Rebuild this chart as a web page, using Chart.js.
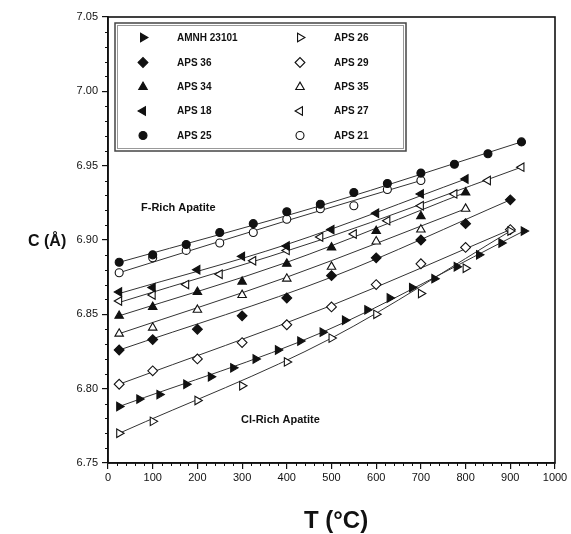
<!DOCTYPE html>
<html>
<head>
<meta charset="utf-8">
<script src="https://cdn.jsdelivr.net/npm/chart.js@4.4.1/dist/chart.umd.min.js"></script>
<style>
  html, body { margin: 0; padding: 0; background: #fff; }
  #latticeChart { display: block; }
</style>
</head>
<body>
<canvas id="latticeChart" width="571" height="534"></canvas>
<script>
// temperatures (°C)
const tempAMNH = [25, 70, 115, 175, 230, 280, 330, 380, 430, 480, 530, 580, 630, 680, 730, 780, 830, 880, 930];
const temp100 = [25, 100, 200, 300, 400, 500, 600, 700, 800, 900];
const temp75 = [25, 100, 175, 250, 325, 400, 475, 550, 625, 700, 775, 850, 925];

// c lattice parameter (Å)
const cAMNH = [6.788, 6.793, 6.796, 6.803, 6.808, 6.814, 6.820, 6.826, 6.832, 6.838, 6.846, 6.853, 6.861, 6.868, 6.874, 6.882, 6.890, 6.898, 6.906];
const cAPS36 = [6.826, 6.833, 6.840, 6.849, 6.861, 6.876, 6.888, 6.900, 6.911, 6.927];
const cAPS34 = [6.849, 6.855, 6.865, 6.872, 6.884, 6.895, 6.906, 6.916, 6.932];
const cAPS18 = [6.865, 6.868, 6.880, 6.889, 6.896, 6.907, 6.918, 6.931, 6.941];
const cAPS25 = [6.885, 6.890, 6.897, 6.905, 6.911, 6.919, 6.924, 6.932, 6.938, 6.945, 6.951, 6.958, 6.966];
const cAPS26 = [6.770, 6.778, 6.792, 6.802, 6.818, 6.834, 6.850, 6.864, 6.881, 6.906];
const cAPS29 = [6.803, 6.812, 6.820, 6.831, 6.843, 6.855, 6.870, 6.884, 6.895, 6.907];
const cAPS35 = [6.837, 6.841, 6.853, 6.863, 6.874, 6.882, 6.899, 6.907, 6.921];
const cAPS27 = [6.859, 6.863, 6.870, 6.877, 6.886, 6.893, 6.902, 6.904, 6.913, 6.923, 6.931, 6.940, 6.949];
const cAPS21 = [6.878, 6.888, 6.893, 6.898, 6.905, 6.914, 6.921, 6.923, 6.934, 6.940];

// fitted curves [T, c]
const fitAMNH = [[25, 6.788], [480, 6.838], [930, 6.906]];
const fitAPS36 = [[25, 6.826], [500, 6.875], [900, 6.927]];
const fitAPS34 = [[25, 6.849], [400, 6.885], [800, 6.932]];
const fitAPS18 = [[25, 6.864], [400, 6.897], [800, 6.941]];
const fitAPS25 = [[25, 6.885], [475, 6.923], [925, 6.966]];
const fitAPS26 = [[25, 6.770], [500, 6.834], [900, 6.906]];
const fitAPS29 = [[25, 6.803], [500, 6.856], [900, 6.907]];
const fitAPS35 = [[25, 6.837], [400, 6.875], [800, 6.921]];
const fitAPS27 = [[25, 6.858], [475, 6.900], [925, 6.949]];
const fitAPS21 = [[25, 6.878], [400, 6.913], [700, 6.940]];

const xTicks = [0, 100, 200, 300, 400, 500, 600, 700, 800, 900, 1000];
const yTicks = [6.75, 6.80, 6.85, 6.90, 6.95, 7.00, 7.05];

const FONT = '"Liberation Sans", Arial, sans-serif';
const INK = '#111';

// one entry per sample: label, T, c, fit, marker
const samples = [
    { label: 'AMNH 23101', t: tempAMNH, c: cAMNH, fit: fitAMNH, shape: 'triangle', rot: 90, filled: true },
    { label: 'APS 36', t: temp100, c: cAPS36, fit: fitAPS36, shape: 'rectRot', rot: 0, filled: true },
    { label: 'APS 34', t: temp100, c: cAPS34, fit: fitAPS34, shape: 'triangle', rot: 0, filled: true },
    { label: 'APS 18', t: temp100, c: cAPS18, fit: fitAPS18, shape: 'triangle', rot: -90, filled: true },
    { label: 'APS 25', t: temp75, c: cAPS25, fit: fitAPS25, shape: 'circle', rot: 0, filled: true },
    { label: 'APS 26', t: temp100, c: cAPS26, fit: fitAPS26, shape: 'triangle', rot: 90, filled: false },
    { label: 'APS 29', t: temp100, c: cAPS29, fit: fitAPS29, shape: 'rectRot', rot: 0, filled: false },
    { label: 'APS 35', t: temp100, c: cAPS35, fit: fitAPS35, shape: 'triangle', rot: 0, filled: false },
    { label: 'APS 27', t: temp75, c: cAPS27, fit: fitAPS27, shape: 'triangle', rot: -90, filled: false },
    { label: 'APS 21', t: temp75, c: cAPS21, fit: fitAPS21, shape: 'circle', rot: 0, filled: false }
];

const markerRadius = s => s.shape === 'circle' ? 4 : 4.9;

const datasets = [];
samples.forEach(s => {
    datasets.push({
        type: 'scatter',
        label: s.label,
        data: s.c.map((v, i) => ({ x: s.t[i], y: v })),
        pointStyle: s.shape,
        rotation: s.rot,
        pointRadius: markerRadius(s),
        backgroundColor: s.filled ? INK : '#fff',
        borderColor: INK,
        borderWidth: 1.1,
        order: 1
    });
});
samples.forEach(s => {
    datasets.push({
        type: 'line',
        label: s.label + ' fit',
        data: s.fit.map(p => ({ x: p[0], y: p[1] })),
        borderColor: '#333',
        borderWidth: 1,
        pointRadius: 0,
        fill: false,
        cubicInterpolationMode: 'monotone',
        order: 2
    });
});

// minor ticks, frame, legend box, titles and text labels
const decorPlugin = {
    id: 'decor',
    afterDraw(chart) {
        const ctx = chart.ctx;
        const a = chart.chartArea;
        const xs = chart.scales.x, ys = chart.scales.y;
        ctx.save();
        ctx.strokeStyle = INK;
        ctx.lineWidth = 1;
        for (let t = 0; t <= 1000; t += 20) {
            if (t % 100 === 0) continue;
            const px = Math.round(xs.getPixelForValue(t)) + 0.5;
            ctx.beginPath(); ctx.moveTo(px, a.bottom); ctx.lineTo(px, a.bottom + 3); ctx.stroke();
        }
        for (let k = 675; k <= 705; k++) {
            if (k % 5 === 0) continue;
            const py = Math.round(ys.getPixelForValue(k / 100)) + 0.5;
            ctx.beginPath(); ctx.moveTo(a.left, py); ctx.lineTo(a.left - 3, py); ctx.stroke();
        }
        // frame
        ctx.lineWidth = 1.6;
        ctx.strokeRect(a.left, a.top, a.right - a.left, a.bottom - a.top);

        // legend box
        ctx.lineWidth = 1.5;
        ctx.strokeStyle = '#444';
        ctx.fillStyle = '#fff';
        ctx.fillRect(115, 23, 291, 128);
        ctx.strokeRect(115, 23, 291, 128);
        ctx.strokeStyle = '#999';
        ctx.lineWidth = 1;
        ctx.strokeRect(117.5, 25.5, 286, 123);

        const rows = [37.5, 62.5, 87, 111, 135.5];
        const draw = Chart.helpers.drawPoint;
        samples.forEach((s, i) => {
            const col = Math.floor(i / 5);
            const mx = col === 0 ? 143 : 300;
            const tx = col === 0 ? 177 : 334;
            const y = rows[i % 5];
            ctx.fillStyle = s.filled ? INK : '#fff';
            ctx.strokeStyle = INK;
            ctx.lineWidth = 1.1;
            draw(ctx, { pointStyle: s.shape, rotation: s.rot, radius: markerRadius(s), borderWidth: 1.1 }, mx, y);
            ctx.fillStyle = INK;
            ctx.font = 'bold 10px ' + FONT;
            ctx.textAlign = 'left';
            ctx.textBaseline = 'middle';
            ctx.fillText(s.label, tx, y + 0.5);
        });

        // region labels
        ctx.fillStyle = INK;
        ctx.font = 'bold 11px ' + FONT;
        ctx.textAlign = 'left';
        ctx.textBaseline = 'middle';
        ctx.fillText('F-Rich Apatite', 141, 208);
        ctx.fillText('Cl-Rich Apatite', 241, 420);

        // axis titles
        ctx.font = 'bold 16px ' + FONT;
        ctx.fillText('C (Å)', 28, 242);
        ctx.font = 'bold 24px ' + FONT;
        ctx.textAlign = 'center';
        ctx.fillText('T (°C)', 336, 521);
        ctx.restore();
    }
};

const ctx = document.getElementById('latticeChart').getContext('2d');
const latticeChart = new Chart(ctx, {
    type: 'scatter',
    data: { datasets: datasets },
    options: {
        responsive: false,
        animation: false,
        devicePixelRatio: 1,
        layout: { padding: { left: 0, right: 16, top: 17, bottom: 0 } },
        plugins: {
            legend: { display: false },
            tooltip: { enabled: false }
        },
        scales: {
            x: {
                type: 'linear',
                min: 0,
                max: 1000,
                afterBuildTicks: scale => { scale.ticks = xTicks.map(v => ({ value: v })); },
                afterFit: scale => { scale.height = 71; },
                ticks: { color: INK, font: { family: FONT, size: 11 }, padding: 2, maxRotation: 0, callback: v => String(v) },
                grid: { drawOnChartArea: false, tickLength: 6, color: INK, lineWidth: 1.2 },
                border: { color: INK, width: 1.6 }
            },
            y: {
                min: 6.75,
                max: 7.05,
                afterBuildTicks: scale => { scale.ticks = yTicks.map(v => ({ value: v })); },
                afterFit: scale => { scale.width = 108; },
                ticks: { color: INK, font: { family: FONT, size: 11 }, padding: 4, callback: v => v.toFixed(2) },
                grid: { drawOnChartArea: false, tickLength: 6, color: INK, lineWidth: 1.2 },
                border: { color: INK, width: 1.6 }
            }
        }
    },
    plugins: [decorPlugin]
});
</script>
</body>
</html>
